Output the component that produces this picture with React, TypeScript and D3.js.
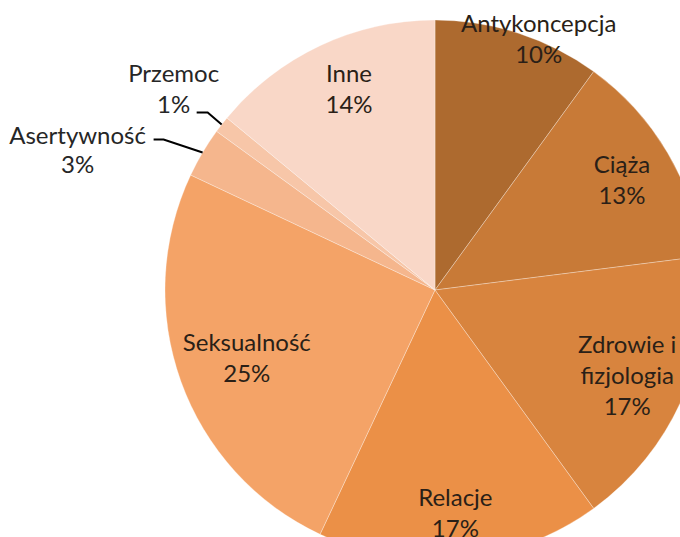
import React from "react";
import * as d3 from "d3";

const categories = ["Antykoncepcja", "Ciąża", "Zdrowie i fizjologia", "Relacje", "Seksualność", "Asertywność", "Przemoc", "Inne"];
const values = [10, 13, 17, 17, 25, 3, 1, 14];
const labelLines = [["Antykoncepcja", "10%"], ["Ciąża", "13%"], ["Zdrowie i", "fizjologia", "17%"], ["Relacje", "17%"], ["Seksualność", "25%"], ["Asertywność", "3%"], ["Przemoc", "1%"], ["Inne", "14%"]];
const colors = ["#AD6A2F", "#C87A37", "#D8843E", "#EB9047", "#F4A367", "#F5B68D", "#F7C6A8", "#F9D7C7"];

const W = 680, H = 537;
const cx = 435, cy = 290, R = 270;
const FONT = "Lato, 'Open Sans', sans-serif";
const FS = 24;
const LH = 31;

// small placement nudges for the inside labels (px)
const nudge: Record<string, [number, number]> = {
  "Ciąża": [1, -1],
  "Zdrowie i fizjologia": [-6, -1],
  "Relacje": [0, 7],
  "Seksualność": [15, -6],
  "Inne": [6, -7],
};

export default function App() {
  const pie = d3.pie<number>().value((d) => d).sort(null);
  const arcs = pie(values);
  const arc = d3.arc<d3.PieArcDatum<number>>().innerRadius(0).outerRadius(R);
  const inner = d3.arc<d3.PieArcDatum<number>>().innerRadius(R * 0.8).outerRadius(R * 0.8);
  const edge = d3.arc<d3.PieArcDatum<number>>().innerRadius(R).outerRadius(R);

  const labelPos = (i: number, a: d3.PieArcDatum<number>): [number, number] => {
    const name = categories[i];
    if (name === "Antykoncepcja") {
      const mid = (a.startAngle + a.endAngle) / 2 + 0.08;
      return [R * Math.sin(mid), -R * Math.cos(mid) - 3];
    }
    const [x, y] = inner.centroid(a);
    const [dx, dy] = nudge[name] || [0, 0];
    return [x + dx, y + dy];
  };

  return (
    <svg width={W} height={H} style={{ position: "absolute", left: 0, top: 0, background: "#fff" }} fontFamily={FONT}>
      <g transform={`translate(${cx},${cy})`}>
        {arcs.map((a, i) => (
          <path key={categories[i]} d={arc(a) || ""} fill={colors[i]} stroke="#ffffff" strokeOpacity={0.3} strokeWidth={1} />
        ))}
        {arcs.map((a, i) => {
          const name = categories[i];
          const lines = labelLines[i];
          if (name === "Asertywność" || name === "Przemoc") {
            const [ex, ey] = edge.centroid(a);
            const isP = name === "Przemoc";
            const kx = ex - (isP ? 14 : 39);
            const ky = ey - (isP ? 12 : 13);
            const hx = kx - (isP ? 11 : 10);
            const tx = isP ? hx - 23 : hx - 76;
            const ty = isP ? ky - 40 : ky - 5;
            return (
              <g key={name}>
                <polyline points={`${ex},${ey} ${kx},${ky} ${hx},${ky}`} fill="none" stroke="#000" strokeWidth={2} />
                {lines.map((t, j) => (
                  <text key={j} x={tx} y={ty + j * (isP ? 31 : 29)} textAnchor="middle" dominantBaseline="central" fontSize={FS} fill="#262626">
                    {t}
                  </text>
                ))}
              </g>
            );
          }
          const [lx, ly] = labelPos(i, a);
          const y0 = ly - ((lines.length - 1) * LH) / 2;
          return (
            <g key={name}>
              {lines.map((t, j) => (
                <text key={j} x={lx} y={y0 + j * LH} textAnchor="middle" dominantBaseline="central" fontSize={FS} fill="#2a1f17">
                  {t}
                </text>
              ))}
            </g>
          );
        })}
      </g>
    </svg>
  );
}
